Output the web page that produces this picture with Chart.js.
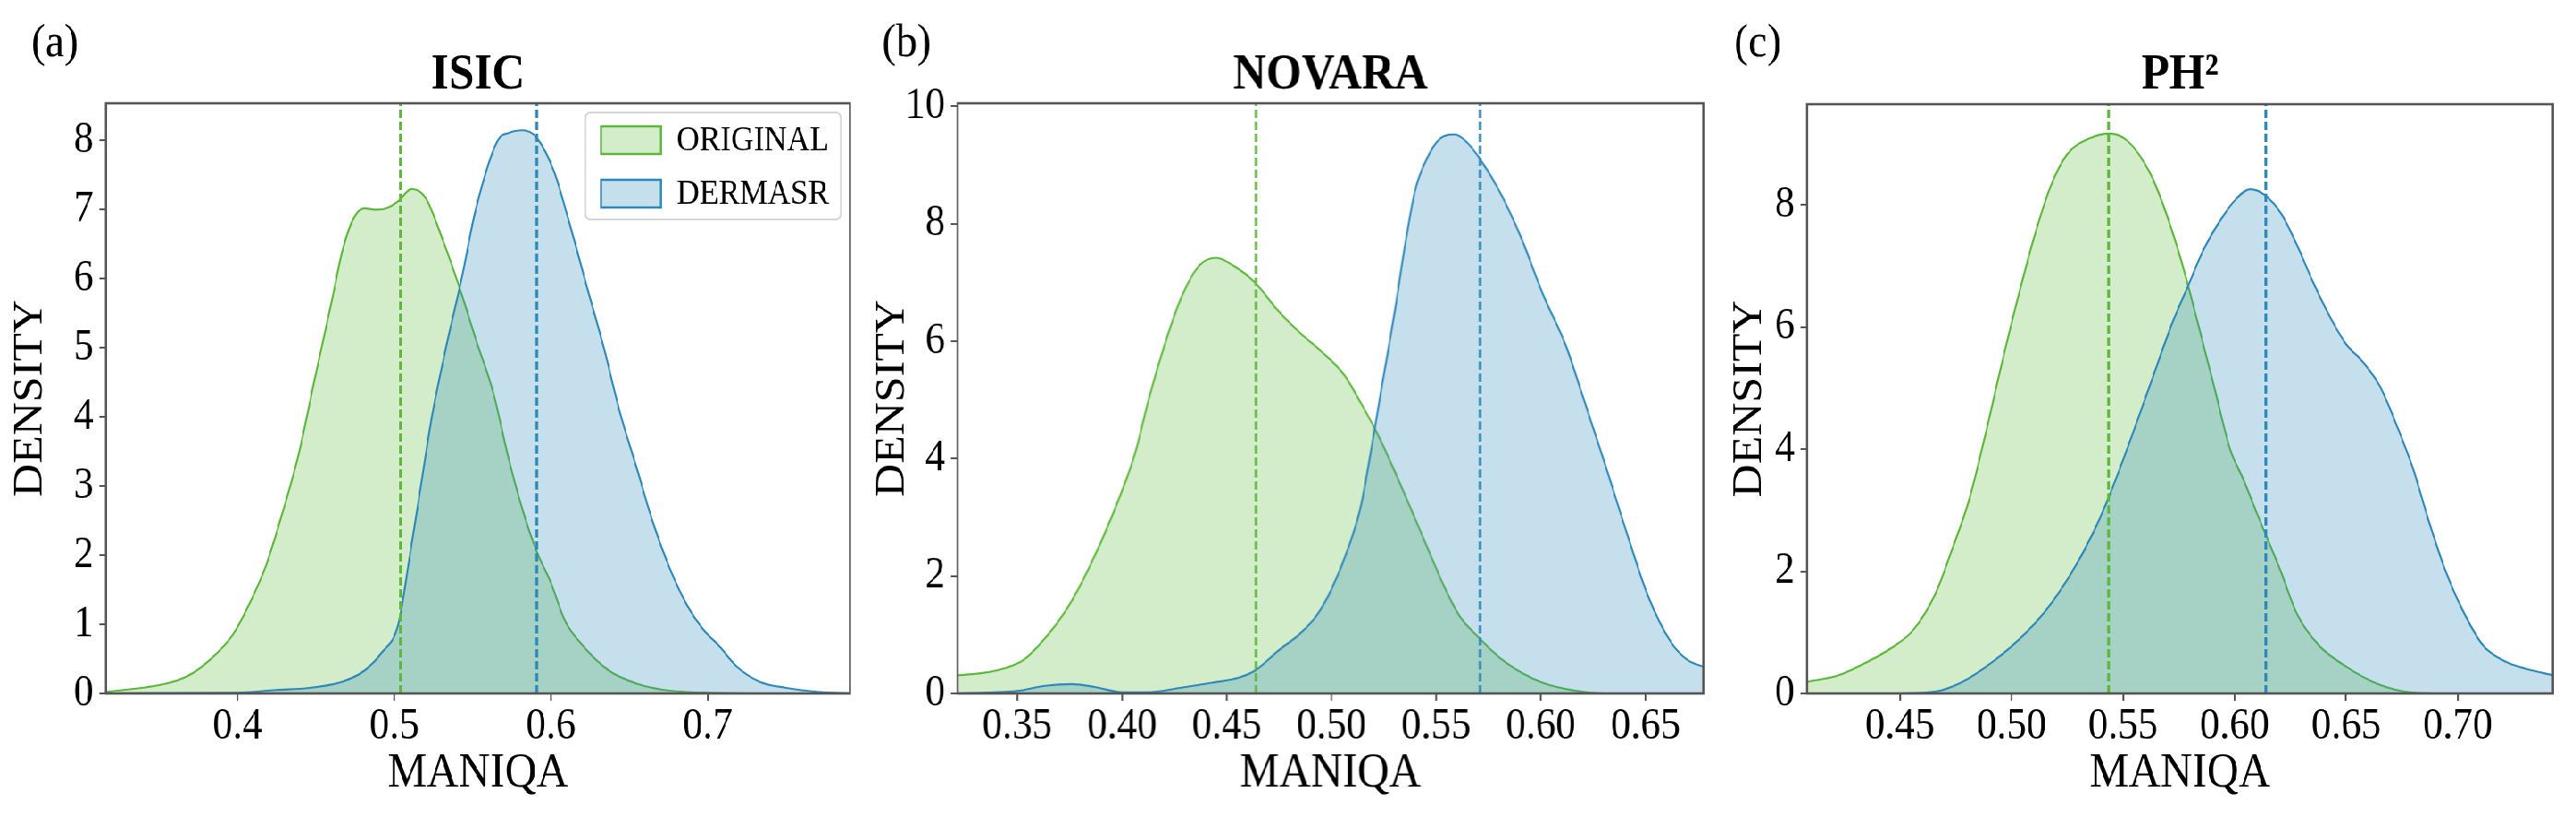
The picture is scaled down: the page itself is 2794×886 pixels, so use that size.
<!DOCTYPE html>
<html>
<head>
<meta charset="utf-8">
<script src="https://cdn.jsdelivr.net/npm/chart.js@4.4.1/dist/chart.umd.min.js"></script>
<style>
  html, body { margin: 0; padding: 0; background: #fff; overflow: hidden; }
  .figure { position: relative; height: 886px; transform-origin: 0 0; }
  .panel { position: absolute; top: 0; height: 886px; }
</style>
</head>
<body>
<div class="figure" id="figure"></div>
<script>
// ISIC
const isicOrigX = [0.316, 0.354, 0.368, 0.382, 0.397, 0.407, 0.418, 0.428, 0.439, 0.449, 0.460, 0.467, 0.474, 0.481, 0.488, 0.496, 0.503, 0.511, 0.520, 0.531, 0.542, 0.552, 0.563, 0.573, 0.582, 0.591, 0.600, 0.609, 0.620, 0.637, 0.655, 0.672, 0.700, 0.750, 0.791];
const isicOrigY = [0.02, 0.14, 0.25, 0.48, 0.85, 1.27, 1.84, 2.56, 3.46, 4.52, 5.66, 6.41, 6.87, 7.02, 7.00, 7.03, 7.13, 7.30, 7.17, 6.56, 5.85, 5.13, 4.37, 3.40, 2.65, 2.05, 1.60, 1.05, 0.70, 0.33, 0.14, 0.05, 0.01, 0, 0];
const isicDermX = [0.316, 0.400, 0.425, 0.446, 0.467, 0.481, 0.492, 0.5026, 0.510, 0.517, 0.524, 0.533, 0.543, 0.552, 0.566, 0.573, 0.582, 0.591, 0.602, 0.612, 0.623, 0.634, 0.644, 0.655, 0.665, 0.676, 0.687, 0.697, 0.708, 0.718, 0.733, 0.750, 0.771, 0.791];
const isicDermY = [0, 0.01, 0.05, 0.08, 0.17, 0.33, 0.59, 1.00, 2.00, 3.00, 4.00, 5.00, 6.00, 7.00, 8.00, 8.11, 8.15, 8.04, 7.55, 6.79, 5.88, 4.98, 4.07, 3.24, 2.48, 1.80, 1.27, 0.93, 0.67, 0.40, 0.17, 0.08, 0.02, 0];
const isicMeans = [0.504, 0.591];

// NOVARA
const novaraOrigX = [0.3215, 0.334, 0.345, 0.353, 0.363, 0.374, 0.384, 0.395, 0.406, 0.413, 0.421, 0.429, 0.437, 0.445, 0.453, 0.464, 0.474, 0.485, 0.495, 0.506, 0.514, 0.522, 0.530, 0.538, 0.546, 0.554, 0.561, 0.571, 0.580, 0.591, 0.601, 0.617, 0.630, 0.678];
const novaraOrigY = [0.31, 0.35, 0.44, 0.57, 0.93, 1.46, 2.12, 3.00, 4.06, 5.04, 6.01, 6.80, 7.29, 7.42, 7.29, 6.98, 6.54, 6.14, 5.83, 5.43, 4.95, 4.42, 3.80, 3.14, 2.47, 1.81, 1.33, 0.93, 0.62, 0.35, 0.18, 0.04, 0, 0];
const novaraDermX = [0.3215, 0.350, 0.363, 0.376, 0.387, 0.400, 0.413, 0.427, 0.4425, 0.456, 0.464, 0.474, 0.485, 0.493, 0.500, 0.508, 0.514, 0.519, 0.524, 0.530, 0.535, 0.540, 0.5455, 0.552, 0.559, 0.564, 0.571, 0.580, 0.5905, 0.601, 0.612, 0.6195, 0.630, 0.641, 0.651, 0.662, 0.670, 0.678];
const novaraDermY = [0, 0.04, 0.13, 0.16, 0.11, 0.02, 0.02, 0.09, 0.18, 0.27, 0.40, 0.71, 1.02, 1.33, 1.77, 2.47, 3.18, 4.15, 5.21, 6.45, 7.60, 8.57, 9.10, 9.45, 9.52, 9.41, 9.10, 8.57, 7.77, 6.80, 5.92, 5.12, 3.98, 2.74, 1.68, 0.88, 0.57, 0.45];
const novaraMeans = [0.464, 0.571];

// PH2
const ph2OrigX = [0.4084, 0.422, 0.434, 0.446, 0.456, 0.466, 0.473, 0.481, 0.488, 0.495, 0.502, 0.510, 0.5175, 0.525, 0.535, 0.544, 0.552, 0.562, 0.568, 0.576, 0.584, 0.591, 0.598, 0.604, 0.610, 0.6207, 0.628, 0.638, 0.650, 0.662, 0.676, 0.690, 0.7427];
const ph2OrigY = [0.19, 0.29, 0.49, 0.74, 1.04, 1.64, 2.32, 3.17, 4.19, 5.30, 6.35, 7.45, 8.30, 8.83, 9.09, 9.17, 9.05, 8.53, 8.00, 7.10, 6.00, 5.00, 4.00, 3.50, 2.95, 2.00, 1.30, 0.78, 0.44, 0.19, 0.03, 0, 0];
const ph2DermX = [0.4084, 0.450, 0.466, 0.478, 0.4905, 0.503, 0.515, 0.527, 0.537, 0.544, 0.552, 0.562, 0.572, 0.579, 0.586, 0.594, 0.601, 0.607, 0.614, 0.621, 0.628, 0.635, 0.643, 0.650, 0.6575, 0.665, 0.672, 0.680, 0.687, 0.694, 0.702, 0.7115, 0.721, 0.731, 0.7427];
const ph2DermY = [0, 0, 0.03, 0.19, 0.49, 0.87, 1.34, 1.98, 2.66, 3.25, 4.02, 5.04, 6.06, 6.66, 7.26, 7.77, 8.11, 8.26, 8.15, 7.85, 7.34, 6.75, 6.15, 5.72, 5.43, 5.04, 4.45, 3.68, 2.83, 2.06, 1.38, 0.78, 0.53, 0.40, 0.30];
const ph2Means = [0.5435, 0.614];

const seriesNames = ['ORIGINAL', 'DERMASR'];
const lineColors = ['rgb(92, 184, 58)', 'rgb(46, 137, 185)'];
const fillColors = ['rgba(92, 184, 58, 0.27)', 'rgba(46, 137, 185, 0.27)'];
const frameColor = '#555555';
const serif = '"Liberation Serif", "Times New Roman", serif';

// the reference lettering is narrower than Times, so the whole figure is
// drawn wider and squeezed back horizontally
const squeeze = 0.9;
const figure = document.getElementById('figure');
figure.style.width = (2794 / squeeze) + 'px';
figure.style.transform = 'scaleX(' + squeeze + ')';

function toPoints(xs, ys) {
    return xs.map((x, i) => ({ x: x, y: ys[i] }));
}

// Titles, panel letters, frame and legend
const panelDecor = {
    id: 'panelDecor',
    afterDraw(chart, args, opts) {
        const ctx = chart.ctx;
        const area = chart.chartArea;
        ctx.save();

        ctx.strokeStyle = frameColor;
        ctx.lineWidth = 2.6;
        ctx.strokeRect(area.left, area.top, area.right - area.left, area.bottom - area.top);

        ctx.fillStyle = '#000';
        ctx.textBaseline = 'alphabetic';
        ctx.textAlign = 'center';
        ctx.font = 'bold 55px ' + serif;
        ctx.fillText(opts.title, (area.left + area.right) / 2, 96);

        ctx.textAlign = 'left';
        ctx.font = '51px ' + serif;
        ctx.fillText(opts.letter, opts.letterX / squeeze, 61);

        if (opts.legend) {
            const k = 1 / squeeze;
            ctx.beginPath();
            ctx.roundRect(635 * k, 122, 277 * k, 116, 6);
            ctx.fillStyle = 'rgba(255,255,255,0.8)';
            ctx.fill();
            ctx.strokeStyle = '#d6d6d6';
            ctx.lineWidth = 2;
            ctx.stroke();

            ctx.font = '38px ' + serif;
            ctx.textBaseline = 'middle';
            seriesNames.forEach((name, i) => {
                const py = 137 + i * 58;
                ctx.fillStyle = fillColors[i];
                ctx.fillRect(652 * k, py, 65 * k, 30);
                ctx.strokeStyle = lineColors[i];
                ctx.lineWidth = 2.5;
                ctx.strokeRect(652 * k, py, 65 * k, 30);
                ctx.fillStyle = '#000';
                ctx.fillText(name, 734 * k, py + 16);
            });
        }
        ctx.restore();
    }
};

function makePanel(cfg) {
    const holder = document.createElement('div');
    holder.className = 'panel';
    holder.style.left = (cfg.offset / squeeze) + 'px';
    holder.style.width = (cfg.width / squeeze) + 'px';
    const canvas = document.createElement('canvas');
    holder.appendChild(canvas);
    figure.appendChild(holder);

    const meanLines = cfg.means.map((m, i) => ({
        type: 'line',
        data: [{ x: m, y: 0 }, { x: m, y: cfg.yMax }],
        borderColor: lineColors[i],
        borderWidth: 3.3,
        borderDash: [9, 4],
        pointRadius: 0,
        fill: false,
        order: 0
    }));

    return new Chart(canvas.getContext('2d'), {
        type: 'line',
        data: {
            datasets: [
                {
                    label: seriesNames[0],
                    data: toPoints(cfg.origX, cfg.origY),
                    borderColor: lineColors[0],
                    backgroundColor: fillColors[0],
                    borderWidth: 2.2,
                    pointRadius: 0,
                    cubicInterpolationMode: 'monotone',
                    fill: 'origin',
                    order: 2
                },
                {
                    label: seriesNames[1],
                    data: toPoints(cfg.dermX, cfg.dermY),
                    borderColor: lineColors[1],
                    backgroundColor: fillColors[1],
                    borderWidth: 2.2,
                    pointRadius: 0,
                    cubicInterpolationMode: 'monotone',
                    fill: 'origin',
                    order: 1
                }
            ].concat(meanLines)
        },
        options: {
            responsive: true,
            maintainAspectRatio: false,
            animation: false,
            layout: {
                padding: { top: cfg.top, right: (cfg.width - cfg.right) / squeeze, left: 0, bottom: 0 }
            },
            plugins: {
                legend: { display: false },
                tooltip: { enabled: false },
                panelDecor: {
                    title: cfg.title,
                    letter: cfg.letter,
                    letterX: cfg.letterX,
                    legend: cfg.legend
                }
            },
            scales: {
                x: {
                    type: 'linear',
                    min: cfg.xMin,
                    max: cfg.xMax,
                    border: { display: false },
                    grid: {
                        drawOnChartArea: false,
                        drawTicks: true,
                        tickLength: 8,
                        color: frameColor,
                        lineWidth: 2.2
                    },
                    ticks: {
                        stepSize: cfg.xStep,
                        includeBounds: false,
                        autoSkip: false,
                        maxRotation: 0,
                        padding: 0,
                        color: '#000',
                        font: { family: serif, size: 48 },
                        callback: function(value) {
                            return value.toFixed(cfg.xDecimals);
                        }
                    },
                    title: {
                        display: true,
                        text: 'MANIQA',
                        color: '#000',
                        font: { family: serif, size: 53 },
                        padding: { top: 0, bottom: 15 }
                    },
                    afterFit: function(scale) {
                        scale.height = 134;
                    }
                },
                y: {
                    min: 0,
                    max: cfg.yMax,
                    border: { display: false },
                    grid: {
                        drawOnChartArea: false,
                        drawTicks: true,
                        tickLength: 8,
                        color: frameColor,
                        lineWidth: 2
                    },
                    ticks: {
                        stepSize: cfg.yStep,
                        includeBounds: false,
                        padding: 7,
                        color: '#000',
                        font: { family: serif, size: 48 }
                    },
                    title: {
                        display: true,
                        text: 'DENSITY',
                        color: '#000',
                        font: { family: serif, size: 50 },
                        padding: { top: cfg.yTitleX / squeeze - 30, bottom: 0 }
                    },
                    afterFit: function(scale) {
                        scale.width = cfg.left / squeeze;
                    }
                }
            }
        },
        plugins: [panelDecor]
    });
}

makePanel({
    origX: isicOrigX, origY: isicOrigY, dermX: isicDermX, dermY: isicDermY, means: isicMeans,
    xMin: 0.3161, xMax: 0.7908, xStep: 0.1, xDecimals: 1,
    yMax: 8.54, yStep: 1,
    offset: 0, width: 931, left: 115, right: 922, top: 112, yTitleX: 33,
    title: 'ISIC', letter: '(a)', letterX: 34, legend: true
});

makePanel({
    origX: novaraOrigX, origY: novaraOrigY, dermX: novaraDermX, dermY: novaraDermY, means: novaraMeans,
    xMin: 0.3215, xMax: 0.6776, xStep: 0.05, xDecimals: 2,
    yMax: 10.05, yStep: 2,
    offset: 931, width: 931, left: 108, right: 916, top: 112, yTitleX: 38,
    title: 'NOVARA', letter: '(b)', letterX: 26, legend: false
});

makePanel({
    origX: ph2OrigX, origY: ph2OrigY, dermX: ph2DermX, dermY: ph2DermY, means: ph2Means,
    xMin: 0.4084, xMax: 0.7427, xStep: 0.05, xDecimals: 2,
    yMax: 9.65, yStep: 2,
    offset: 1862, width: 932, left: 98, right: 907, top: 113, yTitleX: 35.5,
    title: 'PH\u00b2', letter: '(c)', letterX: 19, legend: false
});
</script>
</body>
</html>
